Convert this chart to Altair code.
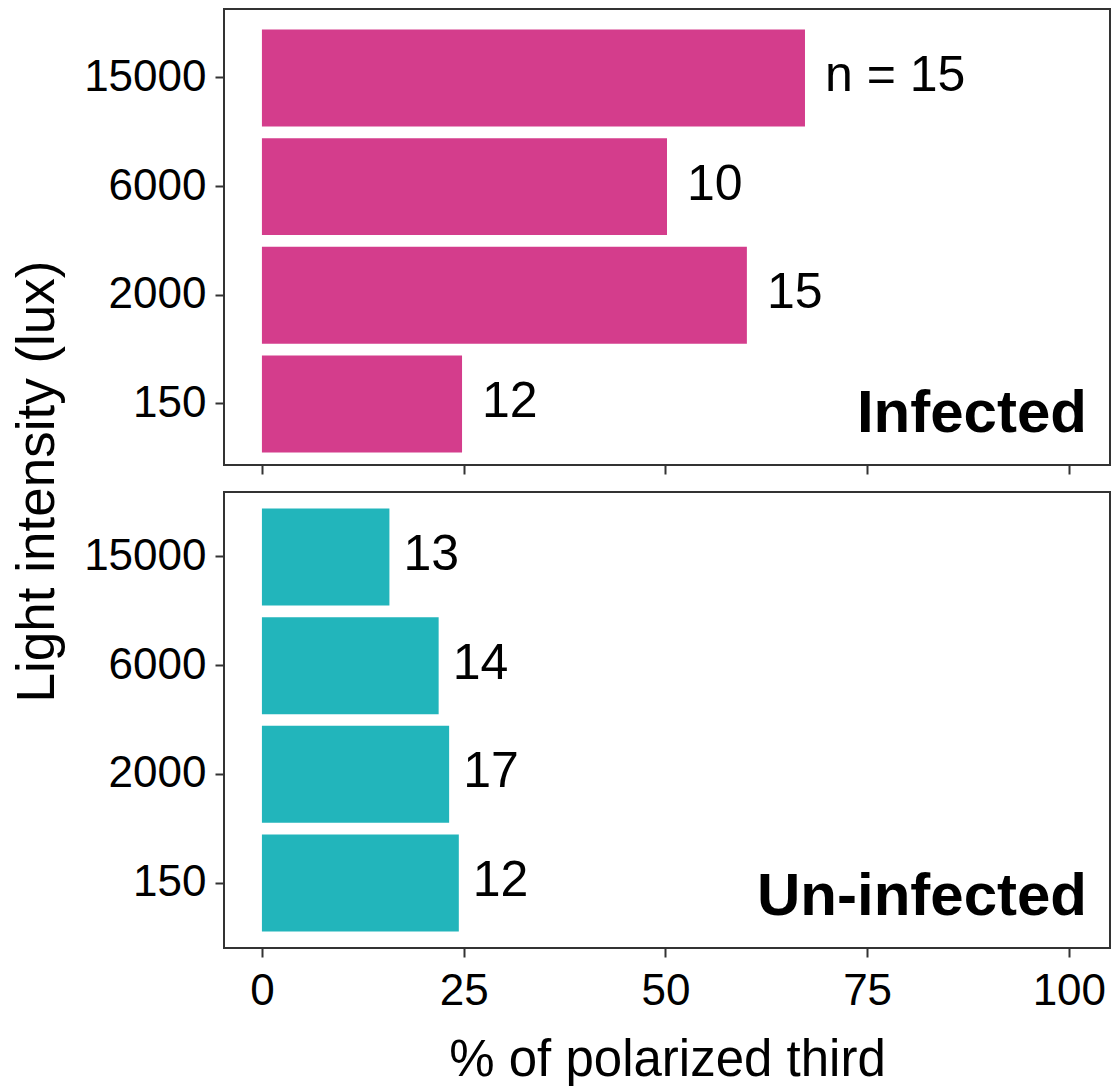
import altair as alt
import pandas as pd

# Light intensity levels, top to bottom
lux = ["15000", "6000", "2000", "150"]

# Infected animals: % of polarized third and sample sizes
infected_pct = [67.3, 50.2, 60.1, 24.8]
infected_n = ["n = 15", "10", "15", "12"]

# Un-infected animals
uninfected_pct = [15.8, 21.9, 23.2, 24.4]
uninfected_n = ["13", "14", "17", "12"]

x_ticks = [0, 25, 50, 75, 100]

FONT = "Liberation Sans"
W, H = 886, 456
X_DOMAIN = [-4.7, 105.1]


def panel(pct, n, color, name, dx, band_align, bottom):
    df = pd.DataFrame({"lux": lux, "pct": pct, "n": n})

    x_axis_kw = dict(values=x_ticks, ticks=True, tickSize=9, tickWidth=2,
                     tickColor="#333333", domain=False, grid=False)
    if bottom:
        x_axis_kw.update(labels=True, labelPadding=12,
                         title="% of polarized third", titleY=127,
                         titleFontSize=51, titleBaseline="alphabetic")
    else:
        x_axis_kw.update(labels=False, title=None)

    y_axis_kw = dict(ticks=True, tickSize=9, tickWidth=2, tickColor="#333333",
                     domain=False, grid=False, labelPadding=9)
    if bottom:
        y_axis_kw.update(title=None)
    else:
        y_axis_kw.update(title="Light intensity (lux)", titleX=-187, titleY=472,
                         titleFontSize=53, titleAngle=270, titleAlign="center",
                         titleBaseline="middle")

    x_enc = alt.X("pct:Q", scale=alt.Scale(domain=X_DOMAIN, nice=False, zero=False),
                  axis=alt.Axis(**x_axis_kw))
    y_enc = alt.Y("lux:N", sort=lux,
                  scale=alt.Scale(paddingInner=0.108, paddingOuter=0.152,
                                  align=band_align),
                  axis=alt.Axis(**y_axis_kw))

    base = alt.Chart(df)
    bars = base.mark_bar(color=color).encode(x=x_enc, y=y_enc)
    counts = base.mark_text(align="left", baseline="middle", dx=dx, dy=-2,
                            fontSize=50, font=FONT, color="black").encode(
        x=alt.X("pct:Q"), y=alt.Y("lux:N", sort=lux), text="n:N")
    tag = alt.Chart(pd.DataFrame({"label": [name]})).mark_text(
        align="right", baseline="alphabetic", fontSize=60, fontWeight="bold",
        font=FONT, color="black").encode(
        x=alt.value(863), y=alt.value(423), text="label:N")
    return alt.layer(bars, counts, tag).properties(width=W, height=H)


top = panel(infected_pct, infected_n, "#d43d8c", "Infected", 20, 0.62, False)
bottom = panel(uninfected_pct, uninfected_n, "#22b5bb", "Un-infected", 14, 0.5, True)

chart = alt.vconcat(top, bottom, spacing=27, bounds="flush").properties(
    autosize=alt.AutoSizeParams(type="pad"),
    padding={"left": 10, "top": 8, "right": 0, "bottom": 0},
).configure_view(
    stroke="#333333", strokeWidth=2
).configure_axis(
    labelFont=FONT, titleFont=FONT, labelColor="black", titleColor="black",
    labelFontSize=44, titleFontWeight="normal"
)

chart.save("out.html", embed_options={"renderer": "svg", "actions": False})
